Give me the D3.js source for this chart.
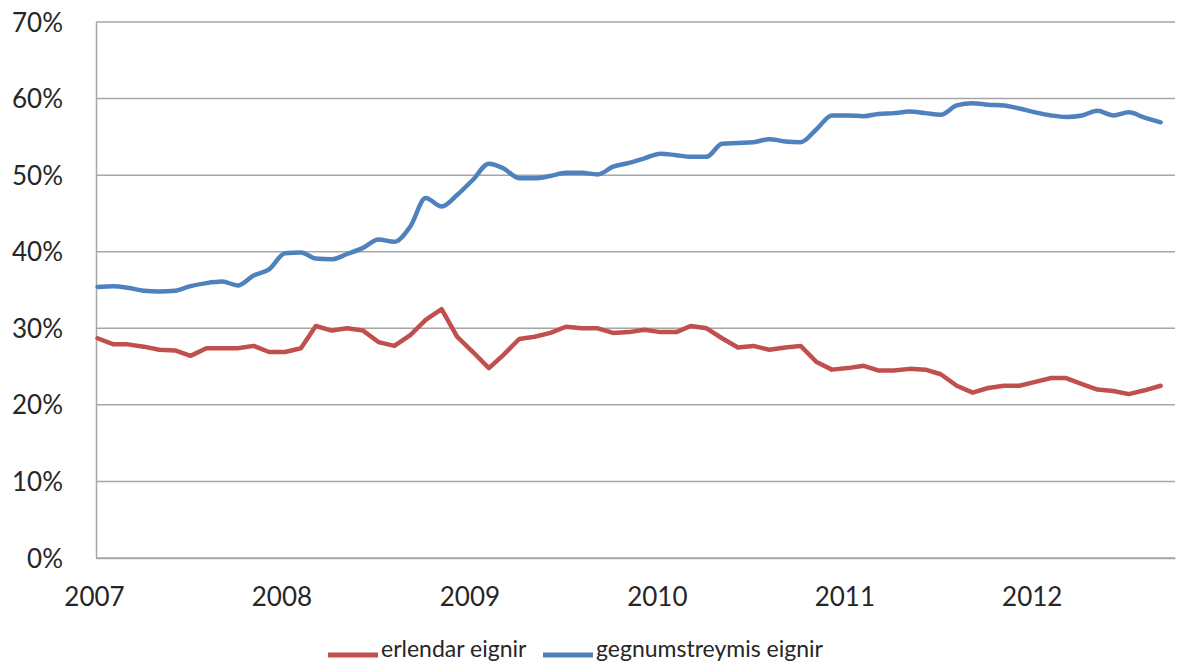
<!DOCTYPE html>
<html>
<head>
<meta charset="utf-8">
<script src="https://cdn.jsdelivr.net/npm/d3@7"></script>
<style>
  html, body { margin: 0; padding: 0; background: #fff; }
  svg { display: block; }
  text { font-family: Lato, "Open Sans", "Liberation Sans", sans-serif; fill: #262626; }
</style>
</head>
<body>
<svg id="chart" width="1186" height="669"></svg>
<script>
// ---- data ----
const startYear = 2007;
const startMonth = 0; // January 2007, monthly observations
const seriesNames = ["erlendar eignir", "gegnumstreymis eignir"];
const seriesColors = ["#c0504d", "#4f81bd"];
const erlendar = [
  28.7, 27.9, 27.9, 27.6, 27.2, 27.1, 26.4, 27.4, 27.4, 27.4, 27.7, 26.9,
  26.9, 27.4, 30.3, 29.7, 30.0, 29.7, 28.2, 27.7, 29.1, 31.1, 32.5, 28.9,
  26.9, 24.8, 26.5, 28.6, 28.9, 29.4, 30.2, 30.0, 30.0, 29.4, 29.5, 29.8,
  29.5, 29.5, 30.3, 30.0, 28.7, 27.5, 27.7, 27.2, 27.5, 27.7, 25.6, 24.6,
  24.8, 25.1, 24.5, 24.5, 24.7, 24.6, 24.0, 22.5, 21.6, 22.2, 22.5, 22.5,
  23.0, 23.5, 23.5, 22.7, 22.0, 21.8, 21.4, 21.9, 22.5
];
const gegnumstreymis = [
  35.4, 35.5, 35.3, 34.9, 34.8, 34.9, 35.5, 35.9, 36.1, 35.6, 36.9, 37.7,
  39.8, 39.9, 39.1, 39.0, 39.7, 40.5, 41.6, 41.3, 43.3, 47.0, 45.9, 47.4,
  49.4, 51.5, 50.9, 49.6, 49.6, 49.9, 50.3, 50.3, 50.1, 51.1, 51.6, 52.2,
  52.8, 52.6, 52.4, 52.4, 54.1, 54.2, 54.3, 54.7, 54.4, 54.3, 56.0, 57.8,
  57.8, 57.7, 58.0, 58.1, 58.3, 58.1, 57.9, 59.1, 59.4, 59.2, 59.1, 58.7,
  58.2, 57.8, 57.6, 57.8, 58.4, 57.8, 58.2, 57.5, 56.9
];
const yTicks = [0, 10, 20, 30, 40, 50, 60, 70];
const xTickYears = [2007, 2008, 2009, 2010, 2011, 2012];

// ---- layout ----
const plotL = 96, plotR = 1175, plotT = 22, plotB = 558;
const svg = d3.select("#chart");

const x = d3.scaleTime()
  .domain([new Date(2007, 0, 1), new Date(2012, 9, 2)])
  .range([plotL, plotR]);
const y = d3.scaleLinear().domain([0, 70]).range([plotB, plotT]);

const dateOf = i => new Date(startYear, startMonth + i, 4);

// gridlines
svg.append("g")
  .selectAll("line")
  .data(yTicks)
  .join("line")
  .attr("x1", plotL).attr("x2", plotR)
  .attr("y1", d => y(d)).attr("y2", d => y(d))
  .attr("stroke", "#a6a6a6").attr("stroke-width", 1.5);

// y axis
const yAxis = d3.axisLeft(y).tickValues(yTicks).tickSize(0).tickPadding(33)
  .tickFormat(d => d + "%");
const gy = svg.append("g").attr("transform", `translate(${plotL},0)`).call(yAxis);
gy.select(".domain").attr("stroke", "#a6a6a6").attr("stroke-width", 1.5);
gy.selectAll("text").attr("font-size", 26).attr("font-family", "Lato, sans-serif")
  .attr("fill", "#262626").attr("dy", "0.35em");

// x axis
const xAxis = d3.axisBottom(x).tickValues(xTickYears.map(yr => new Date(yr, 0, 1)))
  .tickSize(0).tickPadding(30).tickFormat(d3.timeFormat("%Y"));
const gx = svg.append("g").attr("transform", `translate(0,${plotB})`).call(xAxis);
gx.select(".domain").attr("stroke", "#a6a6a6").attr("stroke-width", 1.5);
gx.selectAll("text").attr("font-size", 26).attr("font-family", "Lato, sans-serif")
  .attr("fill", "#262626").attr("dx", "-2");

// lines
const series = [erlendar, gegnumstreymis];
const curves = [d3.curveLinear, d3.curveMonotoneX];
series.forEach((vals, k) => {
  const line = d3.line()
    .x((d, i) => x(dateOf(i)))
    .y(d => y(d))
    .curve(curves[k]);
  svg.append("path")
    .datum(vals)
    .attr("d", line)
    .attr("fill", "none")
    .attr("stroke", seriesColors[k])
    .attr("stroke-width", 4.5)
    .attr("stroke-linejoin", "round")
    .attr("stroke-linecap", "round");
});

// legend
const legendX = [328, 543];
const legendY = 655;
const lg = svg.append("g");
seriesNames.forEach((name, k) => {
  lg.append("line")
    .attr("x1", legendX[k]).attr("x2", legendX[k] + 50)
    .attr("y1", legendY).attr("y2", legendY)
    .attr("stroke", seriesColors[k]).attr("stroke-width", 5);
  lg.append("text")
    .attr("x", legendX[k] + 53).attr("y", legendY - 5)
    .attr("dy", "0.32em")
    .attr("font-size", 23)
    .text(name);
});
</script>
</body>
</html>
